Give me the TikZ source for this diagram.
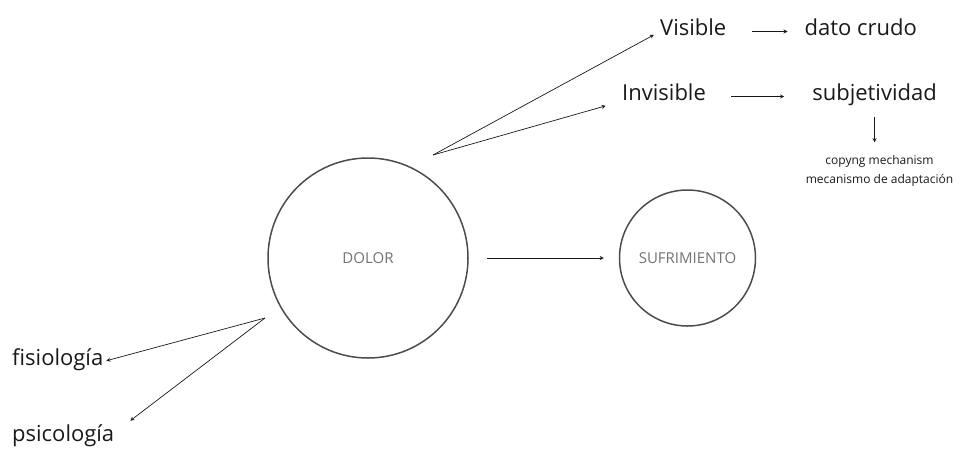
\documentclass[tikz,border=0pt]{standalone}
\usepackage{fontspec}
\setmainfont{Open Sans}
\usetikzlibrary{arrows.meta, positioning}
\tikzset{
    bigcircle/.style={circle, draw=black!70, line width=1.5pt, text=black!55, font=\fontsize{15}{18}\selectfont},
    wordlabel/.style={inner sep=0pt, text height=0.8em, text depth=0.1em, font=\fontsize{22}{26}\selectfont, text=black!90},
    smalllabel/.style={inner sep=0pt, align=center, font=\fontsize{12}{19}\selectfont, text=black!90},
    arrow/.style={line width=0.7pt, -{Stealth[length=4pt, width=4pt]}, color=black!90}
}

\begin{document}
\begin{tikzpicture}[x=1pt, y=-1pt, node distance=20pt]
    \useasboundingbox (0,0) rectangle (969,448);

    \node (dolor) [bigcircle, minimum size=200pt] at (368,258) {DOLOR};
    \node (sufr) [bigcircle, minimum size=136pt, right=150pt of dolor] {SUFRIMIENTO};

    \node (visible) [wordlabel, anchor=base west] at (660,35) {Visible};
    \node (dato) [wordlabel, right=78pt of visible] {dato crudo};
    \node (invisible) [wordlabel, anchor=base west] at (622,100) {Invisible};
    \node (subj) [wordlabel, right=106pt of invisible] {subjetividad};
    \node (copying) [smalllabel, below=54pt of subj, xshift=5pt] {copyng mechanism\\mecanismo de adaptación};

    \node (fisio) [wordlabel, anchor=base west] at (12,365) {fisiología};
    \node (psico) [wordlabel, anchor=base west] at (12,441) {psicología};

    \coordinate (dolorTop) at (433,155);
    \coordinate (dolorLow) at (265,318);

    \draw [arrow, shorten <=18pt, shorten >=15pt] (dolor.east) -- (sufr.west);
    \draw [arrow, shorten >=7pt] (dolorTop) -- (visible.west);
    \draw [arrow, shorten >=17pt] (dolorTop) -- (invisible.south west);
    \draw [arrow, shorten <=25pt, shorten >=17pt] (visible.east) -- (dato.west);
    \draw [arrow, shorten <=25pt, shorten >=28pt] (invisible.east) -- (subj.west);
    \draw [arrow, shorten <=16pt, shorten >=13pt] (subj.south) -- (subj.south |- copying.north);
    \draw [arrow, shorten >=3pt] (dolorLow) -- (fisio.east);
    \draw [arrow, shorten >=20pt] (dolorLow) -- (psico.north east);
\end{tikzpicture}
\end{document}
